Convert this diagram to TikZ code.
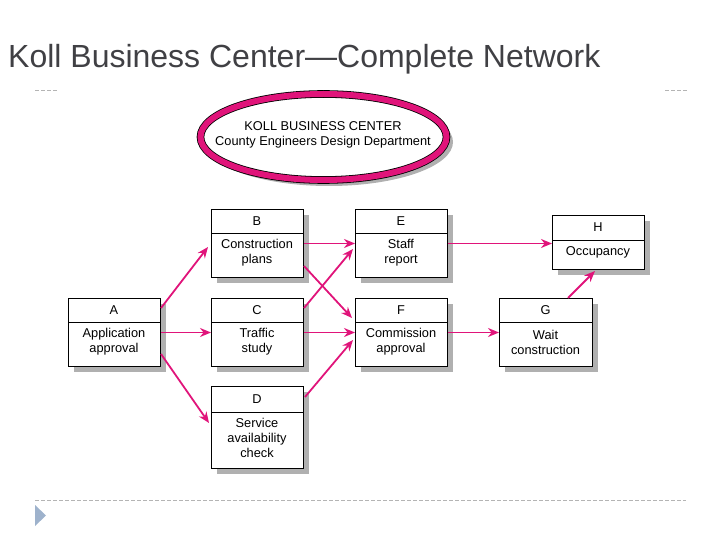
\documentclass[tikz,border=0pt]{standalone}
\usepackage{fontspec}
\setmainfont{Liberation Sans}
\usetikzlibrary{arrows.meta,calc}
\definecolor{pinkc}{RGB}{224,20,122}
\definecolor{shadowc}{RGB}{176,176,176}
\definecolor{titlec}{RGB}{64,64,68}
\definecolor{dashc}{RGB}{180,180,180}
\definecolor{trianglec}{RGB}{158,178,204}
\tikzset{
  taskrect/.style={draw=black, line width=1pt, fill=white, inner sep=0pt},
  lettertext/.style={font=\fontsize{12.8}{15}\selectfont, inner sep=0pt},
  desctext/.style={font=\fontsize{12.8}{15}\selectfont, inner sep=0pt, align=center},
  flow/.style={draw=pinkc, line width=1.8pt, -{Stealth[length=11pt,width=9pt]}},
  slidedash/.style={draw=dashc, line width=0.7pt, dash pattern=on 4pt off 2pt},
}
\newcommand\taskbox[8]{%
  \fill[shadowc] (#2+6,#3+6) rectangle ++(#4,#5);
  \node[taskrect, minimum width=#4pt, minimum height=#5pt, anchor=north west] (#1) at (#2,#3) {};
  \draw[line width=1pt] (#2,#3+#6) -- ++(#4,0);
  \node[lettertext] (#1l) at (#2+#4/2, #3+#6/2) {#7};
  \node[desctext] (#1d) at (#2+#4/2, {(#3+#6+#3+#5)/2-2}) {#8};
}
\begin{document}
\begin{tikzpicture}[x=1pt,y=-1pt]
\useasboundingbox (0,0) rectangle (720,540);
% title
\node[anchor=base west, inner sep=0pt, text=titlec, font=\fontsize{32}{36}\selectfont] (title) at (8,68) {Koll Business Center—Complete Network};
% slide decorations
\draw[slidedash] (35,90) -- (58,90);
\draw[slidedash] (665,90) -- (688,90);
\draw[slidedash] (35,500) -- (686,500);
\fill[trianglec] (35,505) -- (46,515.5) -- (35,526) -- cycle;
% header ellipse
\fill[shadowc] (329,142) ellipse [x radius=124, y radius=44];
\node[inner sep=0pt, minimum width=246pt, minimum height=86pt] (hdr) at (323.5,137) {};
\draw[black, line width=7.6pt, fill=white] (hdr.center) ellipse [x radius=123, y radius=43];
\draw[pinkc, line width=6pt] (hdr.center) ellipse [x radius=123, y radius=43];
\node[font=\fontsize{12.8}{15.5}\selectfont, inner sep=0pt, align=center] (hdrtext) at (323,135) {KOLL BUSINESS CENTER\\County Engineers Design Department};
% task boxes
\taskbox{A}{68}{298}{92}{68}{24}{A}{Application\\approval}
\taskbox{B}{211}{209}{92}{68}{24}{B}{Construction\\plans}
\taskbox{C}{211}{298}{92}{68}{24}{C}{Traffic\\study}
\taskbox{D}{211}{386}{92}{82}{26}{D}{Service\\availability\\check}
\taskbox{E}{355}{209}{92}{68}{24}{E}{Staff\\report}
\taskbox{F}{355}{298}{92}{68}{24}{F}{Commission\\approval}
\taskbox{G}{499}{298}{93}{68}{24}{G}{Wait\\construction}
\taskbox{H}{552}{215}{92}{54}{25}{H}{Occupancy}
% connectors
\draw[flow] ($(A.north east)+(0,10)$) -- ($(B.north west)+(-3,38)$);
\draw[flow] (A.east) -- (C.west);
\draw[flow] ($(A.south east)+(0,-13)$) -- ($(D.north west)+(-2,37)$);
\draw[flow] (B.east) -- (E.west);
\draw[flow] ($(B.south east)+(0,-12)$) -- ($(F.north west)+(-3,20)$);
\draw[flow] ($(C.north east)+(0,10)$) -- ($(E.north west)+(-2,40)$);
\draw[flow] (C.east) -- (F.west);
\draw[flow] ($(D.north east)+(1,11)$) -- ($(F.north west)+(-2,42)$);
\draw[flow] (E.east) -- (E.east -| H.west);
\draw[flow] (F.east) -- (G.west);
\draw[flow] ($(G.north west)+(69,0)$) -- ($(H.south west)+(43,1)$);
\end{tikzpicture}
\end{document}
